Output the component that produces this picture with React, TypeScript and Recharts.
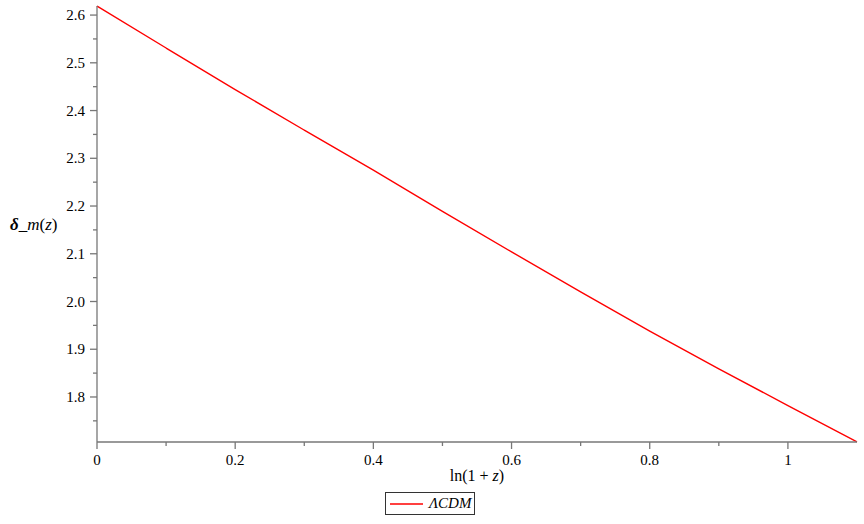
import { LineChart, Line, XAxis, YAxis, Label } from "recharts";

// ln(1+z) samples and the ΛCDM growth curve
const lnOnePlusZ = [0, 0.1, 0.2, 0.3, 0.4, 0.5, 0.6, 0.7, 0.8, 0.9, 1.0, 1.1];
const deltaLCDM = [2.619, 2.531, 2.444, 2.359, 2.275, 2.189, 2.104, 2.02, 1.938, 1.859, 1.782, 1.706];

const xMajorTicks = [0, 0.2, 0.4, 0.6, 0.8, 1];
const xMinorTicks = [0.1, 0.3, 0.5, 0.7, 0.9];
const yMajorTicks = [1.8, 1.9, 2.0, 2.1, 2.2, 2.3, 2.4, 2.5, 2.6];
const yMinorTicks = [1.75, 1.85, 1.95, 2.05, 2.15, 2.25, 2.35, 2.45, 2.55];
const yTickLabels = ["1.8", "1.9", "2.0", "2.1", "2.2", "2.3", "2.4", "2.5", "2.6"];

const seriesName = "ΛCDM";
const seriesColor = "#ff0000";

const data = lnOnePlusZ.map((x, i) => ({ x, lcdm: deltaLCDM[i] }));

const axisColor = "#777777";
const font = '"Liberation Serif", Tinos, "Times New Roman", "DejaVu Serif", serif';

function XTick(props: any) {
  const { x, y, payload } = props;
  const major = xMajorTicks.includes(payload.value);
  return (
    <g>
      <line x1={x} x2={x} y1={y} y2={y + (major ? 7 : 4)} stroke={axisColor} strokeWidth={1.3} />
      {major && (
        <text x={x} y={y + 23} textAnchor="middle" style={{ fontFamily: font, fontSize: 15 }} fill="#000">
          {String(payload.value)}
        </text>
      )}
    </g>
  );
}

function YTick(props: any) {
  const { x, y, payload } = props;
  const idx = yMajorTicks.indexOf(payload.value);
  const major = idx >= 0;
  return (
    <g>
      <line x1={x} x2={x - (major ? 7 : 4)} y1={y} y2={y} stroke={axisColor} strokeWidth={1.3} />
      {major && (
        <text x={x - 12} y={y + 5} textAnchor="end" style={{ fontFamily: font, fontSize: 15 }} fill="#000">
          {yTickLabels[idx]}
        </text>
      )}
    </g>
  );
}

export default function App() {
  return (
    <div style={{ position: "fixed", left: 0, top: 0, width: 864, height: 524, background: "#fff", fontFamily: font }}>
      <LineChart width={864} height={524} data={data} margin={{ top: 6, right: 7, left: 0, bottom: 0 }} style={{ fontFamily: font }}>
        <XAxis
          dataKey="x"
          type="number"
          domain={[0, 1.1]}
          ticks={[...xMajorTicks, ...xMinorTicks]}
          interval={0}
          height={82}
          tickSize={0}
          tickMargin={0}
          tickLine={false}
          tick={<XTick />}
          axisLine={{ stroke: axisColor, strokeWidth: 1.3 }}
        >
          <Label
            content={(p: any) => {
              const vb = p.viewBox;
              return (
                <text x={vb.x + vb.width / 2} y={vb.y + 39} textAnchor="middle" style={{ fontFamily: font, fontSize: 16 }} fill="#000">
                  ln(1 + <tspan fontStyle="italic">z</tspan>)
                </text>
              );
            }}
          />
        </XAxis>
        <XAxis xAxisId="top" orientation="top" type="number" dataKey="x" domain={[0, 1.1]} height={0} tick={false} tickLine={false} axisLine={{ stroke: axisColor, strokeWidth: 1.3 }} />
        <YAxis
          type="number"
          domain={[1.7057, 2.619]}
          ticks={[...yMajorTicks, ...yMinorTicks]}
          interval={0}
          width={97}
          tickSize={0}
          tickMargin={0}
          tickLine={false}
          tick={<YTick />}
          axisLine={{ stroke: axisColor, strokeWidth: 1.3 }}
        >
          <Label
            content={(p: any) => {
              const vb = p.viewBox;
              return (
                <text x={10} y={vb.y + vb.height / 2 + 6} style={{ fontFamily: font, fontSize: 17 }} fill="#000">
                  <tspan fontStyle="italic" fontWeight="bold">δ</tspan>_<tspan fontStyle="italic">m</tspan>(<tspan fontStyle="italic">z</tspan>)
                </text>
              );
            }}
          />
        </YAxis>
        <YAxis yAxisId="right" orientation="right" type="number" domain={[1.7057, 2.619]} width={0} tick={false} tickLine={false} axisLine={{ stroke: axisColor, strokeWidth: 1.3 }} />
        <Line
          dataKey="lcdm"
          name={seriesName}
          type="monotone"
          stroke={seriesColor}
          strokeWidth={1.4}
          dot={false}
          isAnimationActive={false}
        />
      </LineChart>
      <div
        style={{
          position: "absolute",
          left: 385,
          top: 492,
          display: "flex",
          alignItems: "center",
          border: "1px solid #333",
          padding: "0 3px 0 4px",
          height: 23,
          boxSizing: "border-box",
          background: "#fff",
        }}
      >
        <svg width={33} height={4} style={{ marginRight: 6 }}>
          <line x1={0} x2={33} y1={2} y2={2} stroke={seriesColor} strokeWidth={1.5} />
        </svg>
        <span style={{ fontFamily: font, fontStyle: "italic", fontSize: 15 }}>{seriesName}</span>
      </div>
    </div>
  );
}
